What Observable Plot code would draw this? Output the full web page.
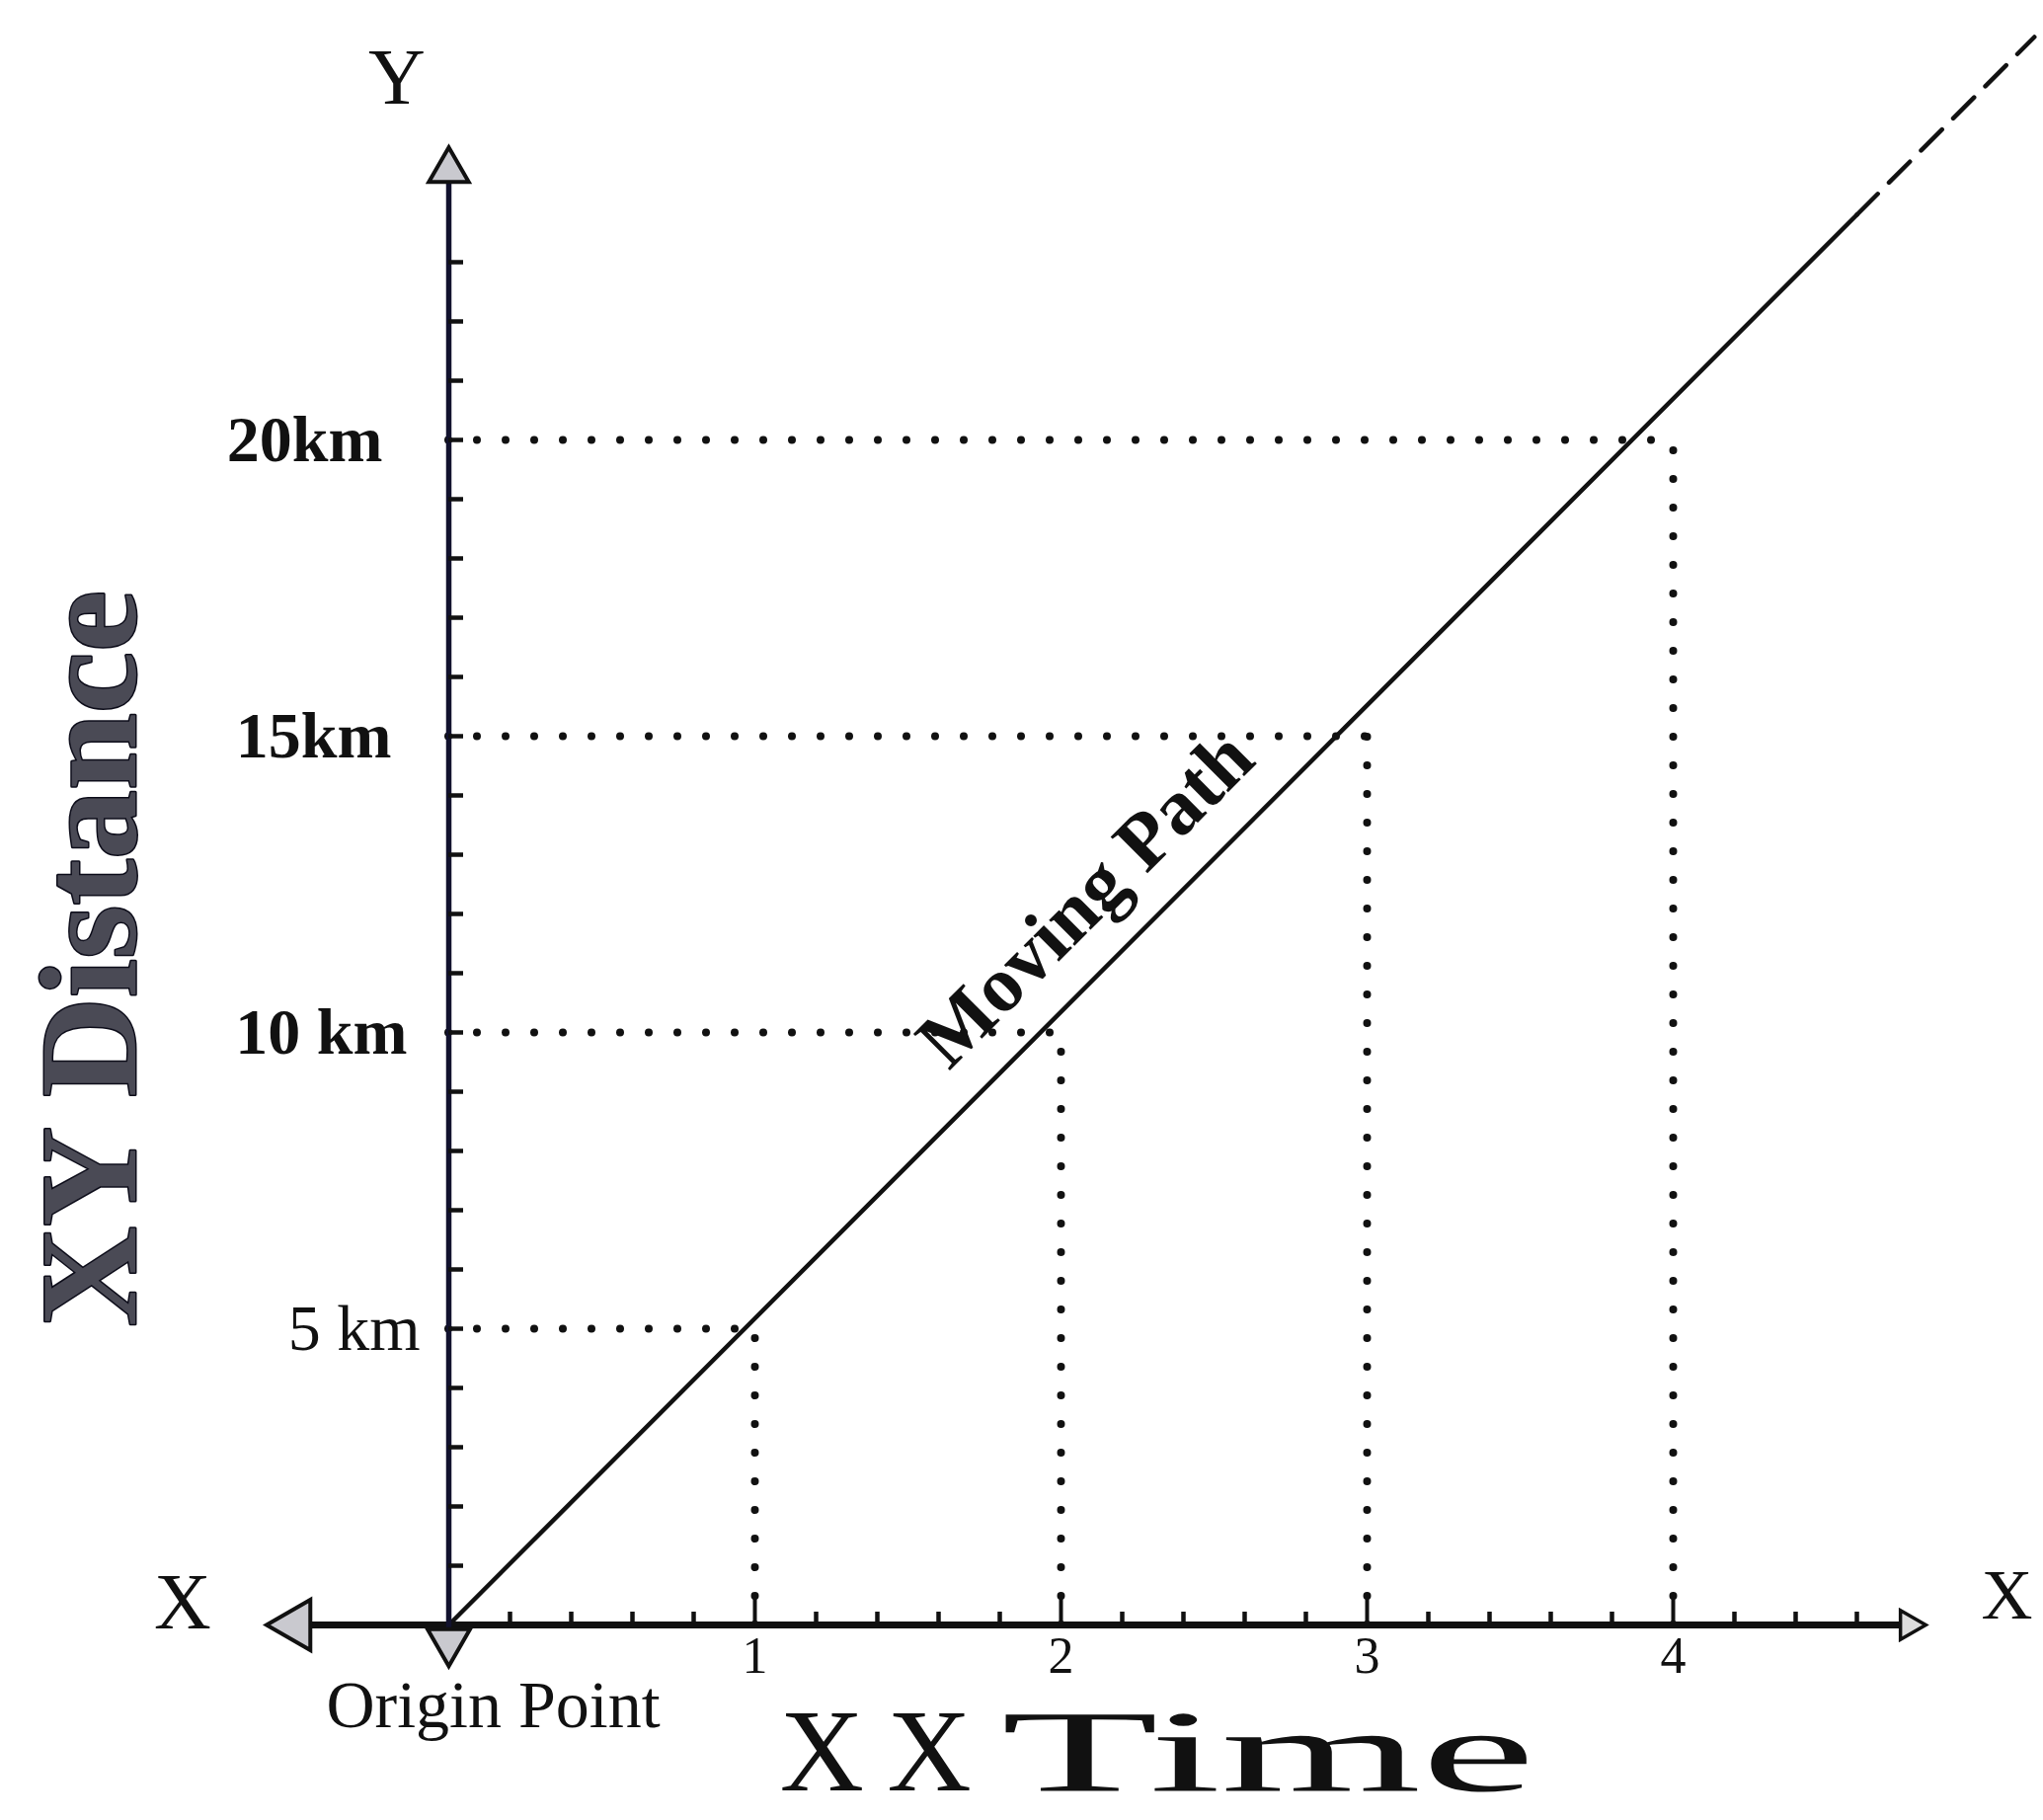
<!DOCTYPE html>
<html>
<head>
<meta charset="utf-8">
<script src="https://cdn.jsdelivr.net/npm/d3@7"></script>
<script src="https://cdn.jsdelivr.net/npm/@observablehq/plot@0.6"></script>
<style>
  html, body { margin: 0; padding: 0; background: #fff; overflow: hidden; }
  svg { display: block; overflow: visible; }
</style>
</head>
<body>
<div id="chart"></div>
<script>
// ---- values ----
const timeTicks = [1, 2, 3, 4];
const timeMinorTicks = [0.2, 0.4, 0.6, 0.8, 1.2, 1.4, 1.6, 1.8, 2.2, 2.4, 2.6, 2.8, 3.2, 3.4, 3.6, 3.8, 4.2, 4.4, 4.6];
const distanceTicks = [5, 10, 15, 20];
const distanceLabels = ["5 km", "10 km", "15km", "20km"];
const distanceMinorTicks = [1, 2, 3, 4, 5, 6, 7, 8, 9, 10, 11, 12, 13, 14, 15, 16, 17, 18, 19, 20, 21, 22, 23];
const readingTimes = [1, 2, 3, 4];
const readingDistances = [5, 10, 15, 20];
const pathSolidTime = [0, 4.6];
const pathSolidDistance = [0, 23.8];
const pathDashedTime = [4.6, 5.18];
const pathDashedDistance = [23.8, 26.8];
const axisXExtent = [-0.5, 4.77];
const axisYExtent = [-0.28, 24.6];
const arrowUp = [{time: 0, distance: 24.55}];
const arrowDown = [{time: 0, distance: -0.28}];
const arrowLeft = [{time: -0.5, distance: 0}];
const arrowRight = [{time: 4.77, distance: 0}];
const labelText = ["Y", "X", "X", "Origin Point"];
const labelTime = [-0.17, -0.87, 5.09, 0.145];
const labelDistance = [26.1, 0.37, 0.5, -1.37];
const labelSize = [80, 82, 72, 68];

// ---- tables built from the arrays ----
const readings = readingTimes.map((t, i) => ({time: t, distance: readingDistances[i]}));
const pathSolid = pathSolidTime.map((t, i) => ({time: t, distance: pathSolidDistance[i]}));
const pathDashed = pathDashedTime.map((t, i) => ({time: t, distance: pathDashedDistance[i]}));
const labels = labelText.map((s, i) => ({text: s, time: labelTime[i], distance: labelDistance[i], size: labelSize[i]}));
const serif = "'Liberation Serif', 'Times New Roman', serif";
const ink = "#111";
const yLabel = (d) => distanceLabels[distanceTicks.indexOf(d)];
const yLabelAxis = (v, pad, weight) => Plot.axisY({ticks: [v], tickSize: 0, tickPadding: pad, tickFormat: yLabel, fontSize: 66, fontWeight: weight, fontFamily: serif, label: null});

const chart = Plot.plot({
  width: 2069,
  height: 1843,
  marginLeft: 454,
  marginRight: 375,
  marginTop: 445,
  marginBottom: 198,
  style: {fontFamily: serif, background: "#fff", color: ink},
  x: {domain: [0, 4]},
  y: {domain: [0, 20]},
  marks: [
    // dotted guides
    Plot.ruleY(readings, {y: "distance", x1: () => 0, x2: "time", stroke: ink, strokeWidth: 8, strokeDasharray: "0 29", strokeLinecap: "round"}),
    Plot.ruleX(readings, {x: "time", y1: () => 0, y2: "distance", stroke: ink, strokeWidth: 8, strokeDasharray: "0 29", strokeLinecap: "round"}),
    // moving path
    Plot.line(pathSolid, {x: "time", y: "distance", stroke: ink, strokeWidth: 4.5}),
    Plot.line(pathDashed, {x: "time", y: "distance", stroke: ink, strokeWidth: 4.5, strokeDasharray: "30 16"}),
    // axis lines
    Plot.ruleY([0], {x1: () => axisXExtent[0], x2: () => axisXExtent[1], stroke: ink, strokeWidth: 7}),
    Plot.ruleX([0], {y1: () => axisYExtent[0], y2: () => axisYExtent[1], stroke: "#12122e", strokeWidth: 5.5}),
    // ticks
    Plot.axisY({ticks: distanceMinorTicks, tickSize: -15, tickFormat: () => "", strokeWidth: 4.5, label: null}),
    Plot.axisX({ticks: timeMinorTicks, tickSize: -13, tickFormat: () => "", strokeWidth: 4.5, label: null}),
    Plot.axisX({ticks: timeTicks, tickSize: -28, tickFormat: () => "", strokeWidth: 4, label: null}),
    // tick labels
    Plot.axisX({ticks: timeTicks, tickSize: 0, tickPadding: 12, tickFormat: d => String(d), fontSize: 52, fontFamily: serif, label: null}),
    yLabelAxis(5, 29, "normal"),
    yLabelAxis(10, 42, "bold"),
    yLabelAxis(15, 58, "bold"),
    yLabelAxis(20, 67, "bold"),
    // arrow heads
    Plot.dot(arrowUp, {x: "time", y: "distance", symbol: "triangle", r: 15, fill: "#c9c9cf", stroke: ink, strokeWidth: 4}),
    Plot.dot(arrowDown, {x: "time", y: "distance", symbol: "triangle", rotate: 180, r: 16, fill: "#c9c9cf", stroke: ink, strokeWidth: 4}),
    Plot.dot(arrowLeft, {x: "time", y: "distance", symbol: "triangle", rotate: -90, r: 19, fill: "#c9c9cf", stroke: ink, strokeWidth: 4}),
    Plot.dot(arrowRight, {x: "time", y: "distance", symbol: "triangle", rotate: 90, r: 11, fill: "#ddd", stroke: ink, strokeWidth: 3.5}),
    // small labels
    Plot.text(labels.filter(d => d.size >= 80), {x: "time", y: "distance", text: "text", fontSize: 80, fontFamily: serif, fill: ink}),
    Plot.text(labels.filter(d => d.size === 72), {x: "time", y: "distance", text: "text", fontSize: 72, fontFamily: serif, fill: ink}),
    Plot.text(labels.filter(d => d.size === 68), {x: "time", y: "distance", text: "text", fontSize: 68, fontFamily: serif, fill: ink}),
    // axis titles
    Plot.text(["XY Distance"], {x: () => -1.17, y: () => 11.25, text: d => d, rotate: -90, fontSize: 140, fontWeight: "bold", fontFamily: serif, fill: "#4a4a55", stroke: "#0d0d1a", strokeWidth: 3}),
    Plot.text(["XX"], {x: () => 1.394, y: () => -2.17, text: d => d, fontSize: 118, fontFamily: serif, fill: ink}),
    Plot.text(["Time"], {x: () => 2.677, y: () => -2.17, text: d => d, fontSize: 118, fontFamily: serif, fill: ink}),
    // path label
    Plot.text(["Moving Path"], {x: () => 2.08, y: () => 12.25, text: d => d, rotate: -45, fontSize: 80, fontWeight: "bold", fontFamily: serif, fill: ink})
  ]
});

document.getElementById("chart").appendChild(chart);

// widen the bottom title like the reference lettering
d3.select(chart).selectAll("text").each(function () {
  const t = this.textContent;
  if (t === "Time") { this.setAttribute("textLength", 541); this.setAttribute("lengthAdjust", "spacingAndGlyphs"); }
  if (t === "XX") { this.setAttribute("textLength", 194); this.setAttribute("lengthAdjust", "spacing"); }
});
</script>
</body>
</html>
